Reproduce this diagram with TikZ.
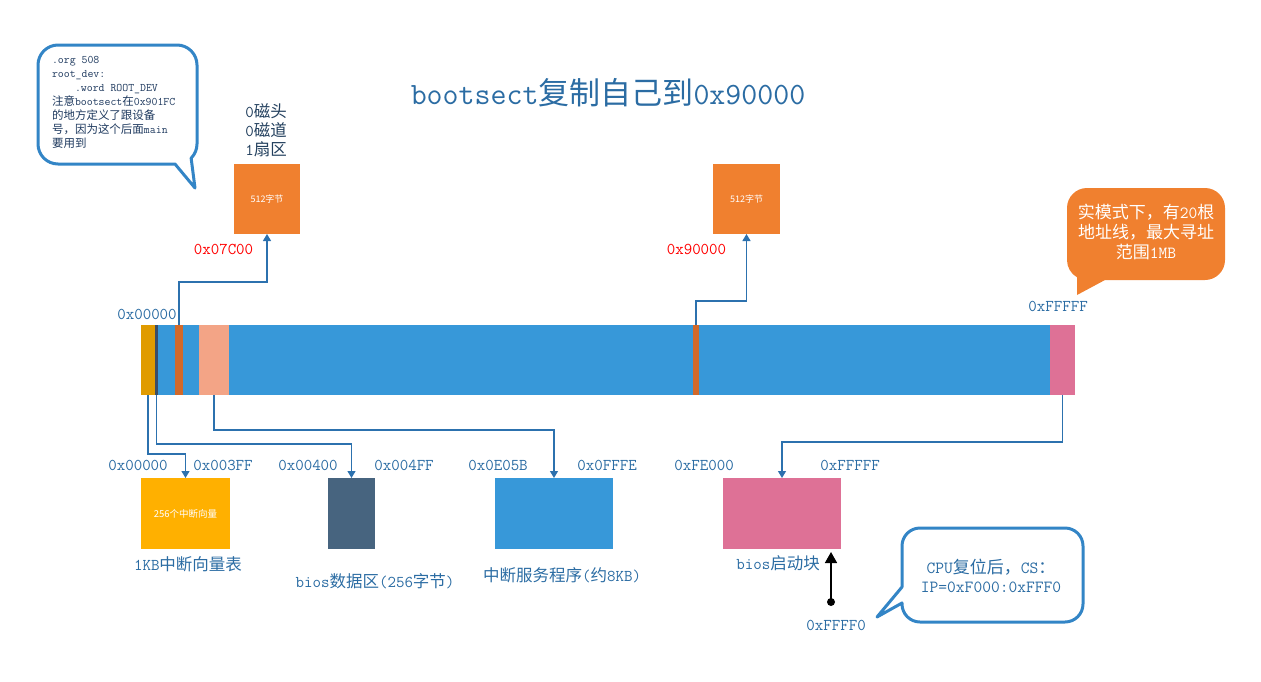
\documentclass[tikz,border=0pt]{standalone}
\usepackage{fontspec}
\usetikzlibrary{arrows.meta}
\newfontfamily\cjk{Noto Sans CJK SC}
\newcommand\zh[1]{{\cjk #1}}
\newcommand\myfs[2]{\fontsize{#1}{#2}\selectfont}
\definecolor{barblue}{HTML}{3798D9}
\definecolor{gold}{HTML}{E09B00}
\definecolor{slate}{HTML}{3B4D66}
\definecolor{rust}{HTML}{D2692A}
\definecolor{salmon}{HTML}{F3A486}
\definecolor{pinkc}{HTML}{DE7196}
\definecolor{orangec}{HTML}{F0802F}
\definecolor{amber}{HTML}{FFB000}
\definecolor{slatebox}{HTML}{47647F}
\definecolor{lineblue}{HTML}{2C71AE}
\definecolor{labblue}{HTML}{2B6CA3}
\definecolor{darklab}{HTML}{23405E}
\definecolor{cborder}{HTML}{3385C6}
\definecolor{ctext}{HTML}{1F3A5F}
\begin{document}
\begin{tikzpicture}[x=1pt,y=-1pt,
  every node/.style={inner sep=0pt,outer sep=0pt,font=\ttfamily},
  seg/.style={rectangle,minimum height=70pt,inner sep=0pt,outer sep=0pt},
  blk/.style={rectangle,minimum height=71pt,inner sep=0pt,outer sep=0pt},
  topblk/.style={rectangle,fill=orangec,minimum width=66pt,minimum height=70pt,text=white,font=\cjk\myfs{9}{11}},
  conn/.style={draw=lineblue,line width=1.3pt,-{Triangle[width=8pt,length=7pt]}},
  hexlab/.style={text=labblue,font=\ttfamily\myfs{16.5}{19}},
  redlab/.style={text=red,font=\ttfamily\myfs{16.5}{19}},
  cjklab/.style={text=labblue,font=\ttfamily\myfs{16.5}{19}},
  callout/.style={draw=cborder,line width=3pt,fill=white,line join=round}
]
\useasboundingbox (0,0) rectangle (1261,681);

% title
\node[text=labblue,font=\ttfamily\myfs{31}{35}] (title) at (608,93) {bootsect\zh{复制自己到}0x90000};

% memory bar
\node[seg,fill=barblue,minimum width=934pt] (bar) at (608,360) {};
\node[seg,fill=gold,minimum width=14pt] (sgold) at (148,360) {};
\node[seg,fill=slate,minimum width=3pt] (sslate) at (156.5,360) {};
\node[seg,fill=rust,minimum width=8pt] (s7c) at (179,360) {};
\node[seg,fill=salmon,minimum width=30pt] (ssal) at (214,360) {};
\node[seg,fill=rust,minimum width=6pt] (s90) at (696,360) {};
\node[seg,fill=pinkc,minimum width=25pt] (spink) at (1062.5,360) {};

\node[hexlab] (l0) at (147,314) {0x00000};
\node[hexlab] (lf) at (1058,306) {0xFFFFF};

% top boxes
\node[topblk] (b7c) at (267,199) {512字节};
\node[topblk,minimum width=67pt] (b90) at (746.5,199) {512字节};
\node[text=darklab,font=\ttfamily\myfs{16.5}{19},align=center] (chs) at (266,130) {0\zh{磁头}\\0\zh{磁道}\\1\zh{扇区}};
\node[redlab] (r7c) at (223.5,249) {0x07C00};
\node[redlab] (r90) at (696.5,249) {0x90000};

\draw[conn] (s7c.north) -- ++(0,-43) -| (b7c.south);
\draw[conn] (s90.north) -- ++(0,-24) -| (b90.south);

% bottom boxes
\node[blk,fill=amber,minimum width=89pt,text=white,font=\cjk\myfs{9.5}{11}] (ivt) at (185.5,513.5) {256个中断向量};
\node[blk,fill=slatebox,minimum width=47pt] (bda) at (351.5,513.5) {};
\node[blk,fill=barblue,minimum width=118pt] (isr) at (554,513.5) {};
\node[blk,fill=pinkc,minimum width=118pt] (boot) at (782,513.5) {};

\draw[conn] (sgold.south) -- ++(0,59) -| (ivt.north);
\draw[conn] (sslate.south) -- ++(0,49) -| (bda.north);
\draw[conn] (ssal.south) -- ++(0,35) -| (isr.north);
\draw[conn] (spink.south) -- ++(0,47) -| (boot.north);

\node[hexlab] (a1) at (138,465) {0x00000};
\node[hexlab] (a2) at (223,465) {0x003FF};
\node[hexlab] (a3) at (308,465) {0x00400};
\node[hexlab] (a4) at (404,465) {0x004FF};
\node[hexlab] (a5) at (498,465) {0x0E05B};
\node[hexlab] (a6) at (607,465) {0x0FFFE};
\node[hexlab] (a7) at (704,465) {0xFE000};
\node[hexlab] (a8) at (850,465) {0xFFFFF};

\node[cjklab] (n1) at (188,564) {1KB\zh{中断向量表}};
\node[cjklab] (n2) at (375,581) {bios\zh{数据区}(256\zh{字节})};
\node[cjklab] (n3) at (562,575) {\zh{中断服务程序}(\zh{约}8KB)};
\node[cjklab] (n4) at (778,563) {bios\zh{启动块}};

% reset arrow
\coordinate (rst) at (831,602);
\coordinate (rsttip) at (831,552);
\fill (rst) circle[radius=4];
\draw[line width=1.6pt,-{Triangle[width=12pt,length=11pt]}] (rst) -- (rsttip);
\node[hexlab] (nf0) at (836,625) {0xFFFF0};

% top-left callout
\draw[callout] (175,164) -- (195,188) -- (191.14,158.14) arc[start angle=45,end angle=0,radius=20]
  -- (197,65) arc[start angle=0,end angle=-90,radius=20]
  -- (58,45) arc[start angle=-90,end angle=-180,radius=20]
  -- (38,144) arc[start angle=180,end angle=90,radius=20] -- cycle;
\node[text=ctext,font=\ttfamily\myfs{11.5}{14},align=left,anchor=north west] (ctl) at (52,56)
  {.org 508\\root\_dev:\\\hspace*{23pt}.word ROOT\_DEV\\\zh{注意}bootsect\zh{在}0x901FC\\\zh{的地方定义了跟设备}\\\zh{号，因为这个后面}main\\\zh{要用到}};

% orange callout
\fill[orangec] (1105,280) -- (1077,295) -- (1077,277.32) arc[start angle=120,end angle=180,radius=20]
  -- (1067,208) arc[start angle=180,end angle=270,radius=20]
  -- (1205,188) arc[start angle=270,end angle=360,radius=20]
  -- (1225,260) arc[start angle=0,end angle=90,radius=20] -- cycle;
\node[text=white,font=\ttfamily\myfs{17}{20},align=center] (cor) at (1146,232)
  {\zh{实模式下，有}20\zh{根}\\\zh{地址线，最大寻址}\\\zh{范围}1MB};

% bottom-right callout
\draw[callout] (902,587) -- (877,617) -- (902,603) -- (902,604) arc[start angle=180,end angle=90,radius=18]
  -- (1065,622) arc[start angle=90,end angle=0,radius=18]
  -- (1083,546) arc[start angle=0,end angle=-90,radius=18]
  -- (920,528) arc[start angle=-90,end angle=-180,radius=18] -- cycle;
\node[text=labblue,font=\ttfamily\myfs{17}{19},align=center] (ccpu) at (991,576)
  {CPU\zh{复位后，}CS\zh{：}\\IP=0xF000:0xFFF0};
\end{tikzpicture}
\end{document}
